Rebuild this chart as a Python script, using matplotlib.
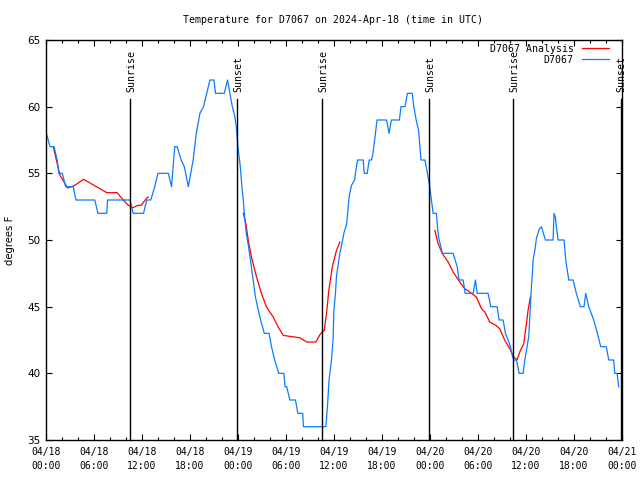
import datetime
import matplotlib
matplotlib.use("Agg")
import matplotlib.pyplot as plt
from matplotlib.ticker import MultipleLocator

# hours since 2024-04-18 00:00 UTC, temperature in F
obs_hours = [0.05, 0.5, 1.0, 1.4, 1.6, 2.05, 2.45, 3.4, 3.75, 6.1, 6.5, 7.6, 7.7, 10.5,
             10.9, 12.2, 12.6, 13.1, 13.6, 14.0, 15.3, 15.7, 16.1, 16.4, 16.9, 17.3,
             17.8, 18.4, 18.8, 19.25, 19.7, 20.1, 20.5, 21.0, 21.2, 22.3, 22.7, 23.0,
             23.3, 23.6, 23.8, 24.0, 24.3, 24.5, 24.67, 24.85, 25.05, 25.46, 25.9,
             26.2, 26.75, 27.3, 27.9, 28.2, 28.6, 29.1, 29.75, 29.9, 30.1, 30.5, 31.2,
             31.5, 32.1, 32.2, 35.0, 35.2, 35.4, 35.7, 35.9, 36.0, 36.2, 36.33, 36.75,
             37.0, 37.25, 37.6, 37.9, 38.2, 38.6, 38.75, 38.96, 39.67, 39.8, 40.17,
             40.42, 40.7, 40.9, 41.1, 41.4, 42.6, 42.9, 43.2, 44.2, 44.4, 44.9, 45.2,
             45.8, 46.0, 46.3, 46.6, 46.9, 47.4, 47.7, 48.0, 48.2, 48.42, 48.83,
             48.96, 49.1, 49.58, 50.92, 51.42, 51.67, 52.17, 52.42, 53.42, 53.71,
             53.92, 55.29, 55.63, 56.42, 56.67, 57.17, 57.46, 57.79, 58.08, 58.33,
             58.5, 58.83, 59.17, 59.67, 59.88, 60.17, 60.38, 60.71, 60.83, 60.92,
             61.13, 61.33, 61.67, 61.96, 62.46, 63.42, 63.54, 63.71, 63.83, 64.04,
             64.79, 65.0, 65.38, 65.92, 66.33, 66.83, 67.29, 67.5, 67.88, 68.5,
             68.96, 69.38, 70.08, 70.38, 71.0, 71.13, 71.42, 71.63]
obs_temps = [58, 57, 57, 56, 55, 55, 54, 54, 53, 53, 52, 52, 53, 53,
             52, 52, 53, 53, 54, 55, 55, 54, 57, 57, 56, 55.5,
             54, 56, 58, 59.5, 60, 61, 62, 62, 61, 61, 62, 61,
             60, 59.3, 58.5, 57, 55.5, 54, 53, 51.7, 50.5, 49, 47,
             45.7, 44.2, 43, 43, 42, 41, 40, 40, 39, 39, 38, 38,
             37, 37, 36, 36, 37.5, 39.5, 41, 42.5, 44.7, 46, 47.3, 49,
             49.7, 50.5, 51.2, 53.2, 54.1, 54.5, 55.2, 56, 56, 55, 55,
             56, 56, 56.5, 57.5, 59, 59, 58, 59, 59, 60, 60, 61,
             61, 60, 59, 58.2, 56, 56, 55, 54, 53, 52, 52,
             51, 50.2, 49, 49, 48, 47, 47, 46, 46, 47,
             46, 46, 45, 45, 44, 44, 43, 42.5, 42, 41.3,
             41, 41, 40, 40, 41, 42, 42.8, 46.5, 47.5, 48.5,
             49.2, 50.1, 50.8, 51, 50, 50, 52, 51.7, 51, 50,
             50, 48.5, 47, 47, 46, 45, 45, 46, 45, 44,
             43, 42, 42, 41, 41, 40, 40, 39]

# analysis curve, three separate pieces
ana1_hours = [0.9, 1.75, 2.4, 2.7, 3.2, 3.6, 4.7, 5.3, 6.0, 6.75, 7.6, 8.9, 9.7, 10.3,
              10.9, 11.5, 11.9, 12.6, 12.8]
ana1_temps = [57.0, 54.85, 54.2, 53.9, 54.0, 54.1, 54.55, 54.35, 54.1, 53.85, 53.55,
              53.55, 52.97, 52.6, 52.43, 52.6, 52.6, 53.15, 53.22]
ana2_hours = [24.67, 25.0, 25.3, 25.7, 26.33, 26.96, 27.58, 28.42, 29.04, 29.67, 30.5,
              31.75, 32.6, 33.75, 34.33, 34.8, 35.08, 35.37, 35.8, 36.33, 36.75]
ana2_temps = [52.0, 51.23, 49.97, 48.72, 47.22, 45.97, 44.97, 44.22, 43.47, 42.85,
              42.77, 42.67, 42.35, 42.35, 42.97, 43.22, 44.47, 46.22, 47.97, 49.22, 49.85]
ana3_hours = [48.63, 49.04, 49.58, 50.29, 50.92, 51.75, 52.38, 53.0, 53.83, 54.46,
              54.88, 55.5, 56.25, 56.75, 57.38, 58.0, 58.5, 58.92, 59.33, 59.75,
              60.08, 60.29, 60.58]
ana3_temps = [50.72, 49.72, 48.97, 48.35, 47.6, 46.85, 46.35, 46.1, 45.72, 44.85,
              44.6, 43.85, 43.6, 43.35, 42.47, 41.85, 41.22, 41.02, 41.72, 42.22,
              43.72, 44.72, 45.72]

sun_hours = [10.54, 23.91, 34.54, 47.91, 58.41, 71.85]
sun_names = ["Sunrise", "Sunset", "Sunrise", "Sunset", "Sunrise", "Sunset"]

y_ticks = [35, 40, 45, 50, 55, 60, 65]
start = datetime.datetime(2024, 4, 18)

mono = "DejaVu Sans Mono"
fig = plt.figure(figsize=(6.4, 4.8), dpi=100)
ax = fig.add_axes([46 / 640, 40 / 480, 575.7 / 640, 400 / 480])

blue = "#0a7cff"
red = "#ff0000"
ax.plot(ana1_hours, ana1_temps, color=red, lw=0.9, label="D7067 Analysis")
ax.plot(ana2_hours, ana2_temps, color=red, lw=0.9)
ax.plot(ana3_hours, ana3_temps, color=red, lw=0.9)
ax.plot(obs_hours, obs_temps, color=blue, lw=0.9, label="D7067")

trans = ax.get_xaxis_transform()
for h, name in zip(sun_hours, sun_names):
    ax.axvline(h, ymin=0, ymax=0.8525, color="black", lw=1.0)
    ax.text(h + 0.15, 0.87, name, rotation=90, ha="center", va="bottom",
            transform=trans, family=mono, fontsize=7.1)

ax.set_xlim(0, 72)
ax.set_ylim(35, 65)
xt = list(range(0, 73, 6))
ax.set_xticks(xt)
ax.set_xticklabels([(start + datetime.timedelta(hours=h)).strftime("%m/%d\n%H:%M") for h in xt],
                   family=mono, fontsize=7.0, linespacing=1.5)
ax.xaxis.set_minor_locator(MultipleLocator(2))
ax.set_yticks(y_ticks)
ax.set_yticklabels([str(v) for v in y_ticks], fontsize=7.5)
ax.tick_params(axis="both", which="major", direction="in", length=4, width=0.8,
               top=True, right=True, pad=4)
ax.tick_params(axis="x", which="minor", direction="in", length=2.5, width=0.8, top=True)
ax.tick_params(axis="x", which="major", pad=5)
for s in ax.spines.values():
    s.set_linewidth(1.0)

ax.set_ylabel("degrees F", fontsize=7.3)
ax.yaxis.set_label_coords(-0.053, 0.5)

fig.text(333 / 640, 1 - 20 / 480, "Temperature for D7067 on 2024-Apr-18 (time in UTC)",
         ha="center", va="center", family=mono, fontsize=7.1)

ax.legend(loc="upper right", bbox_to_anchor=(0.985, 1.0), frameon=False, markerfirst=False,
          prop={"family": mono, "size": 7.1}, handlelength=2.8, handletextpad=0.78,
          labelspacing=0.08, borderaxespad=0, borderpad=0.4)

fig.savefig("out.png", dpi=100)
